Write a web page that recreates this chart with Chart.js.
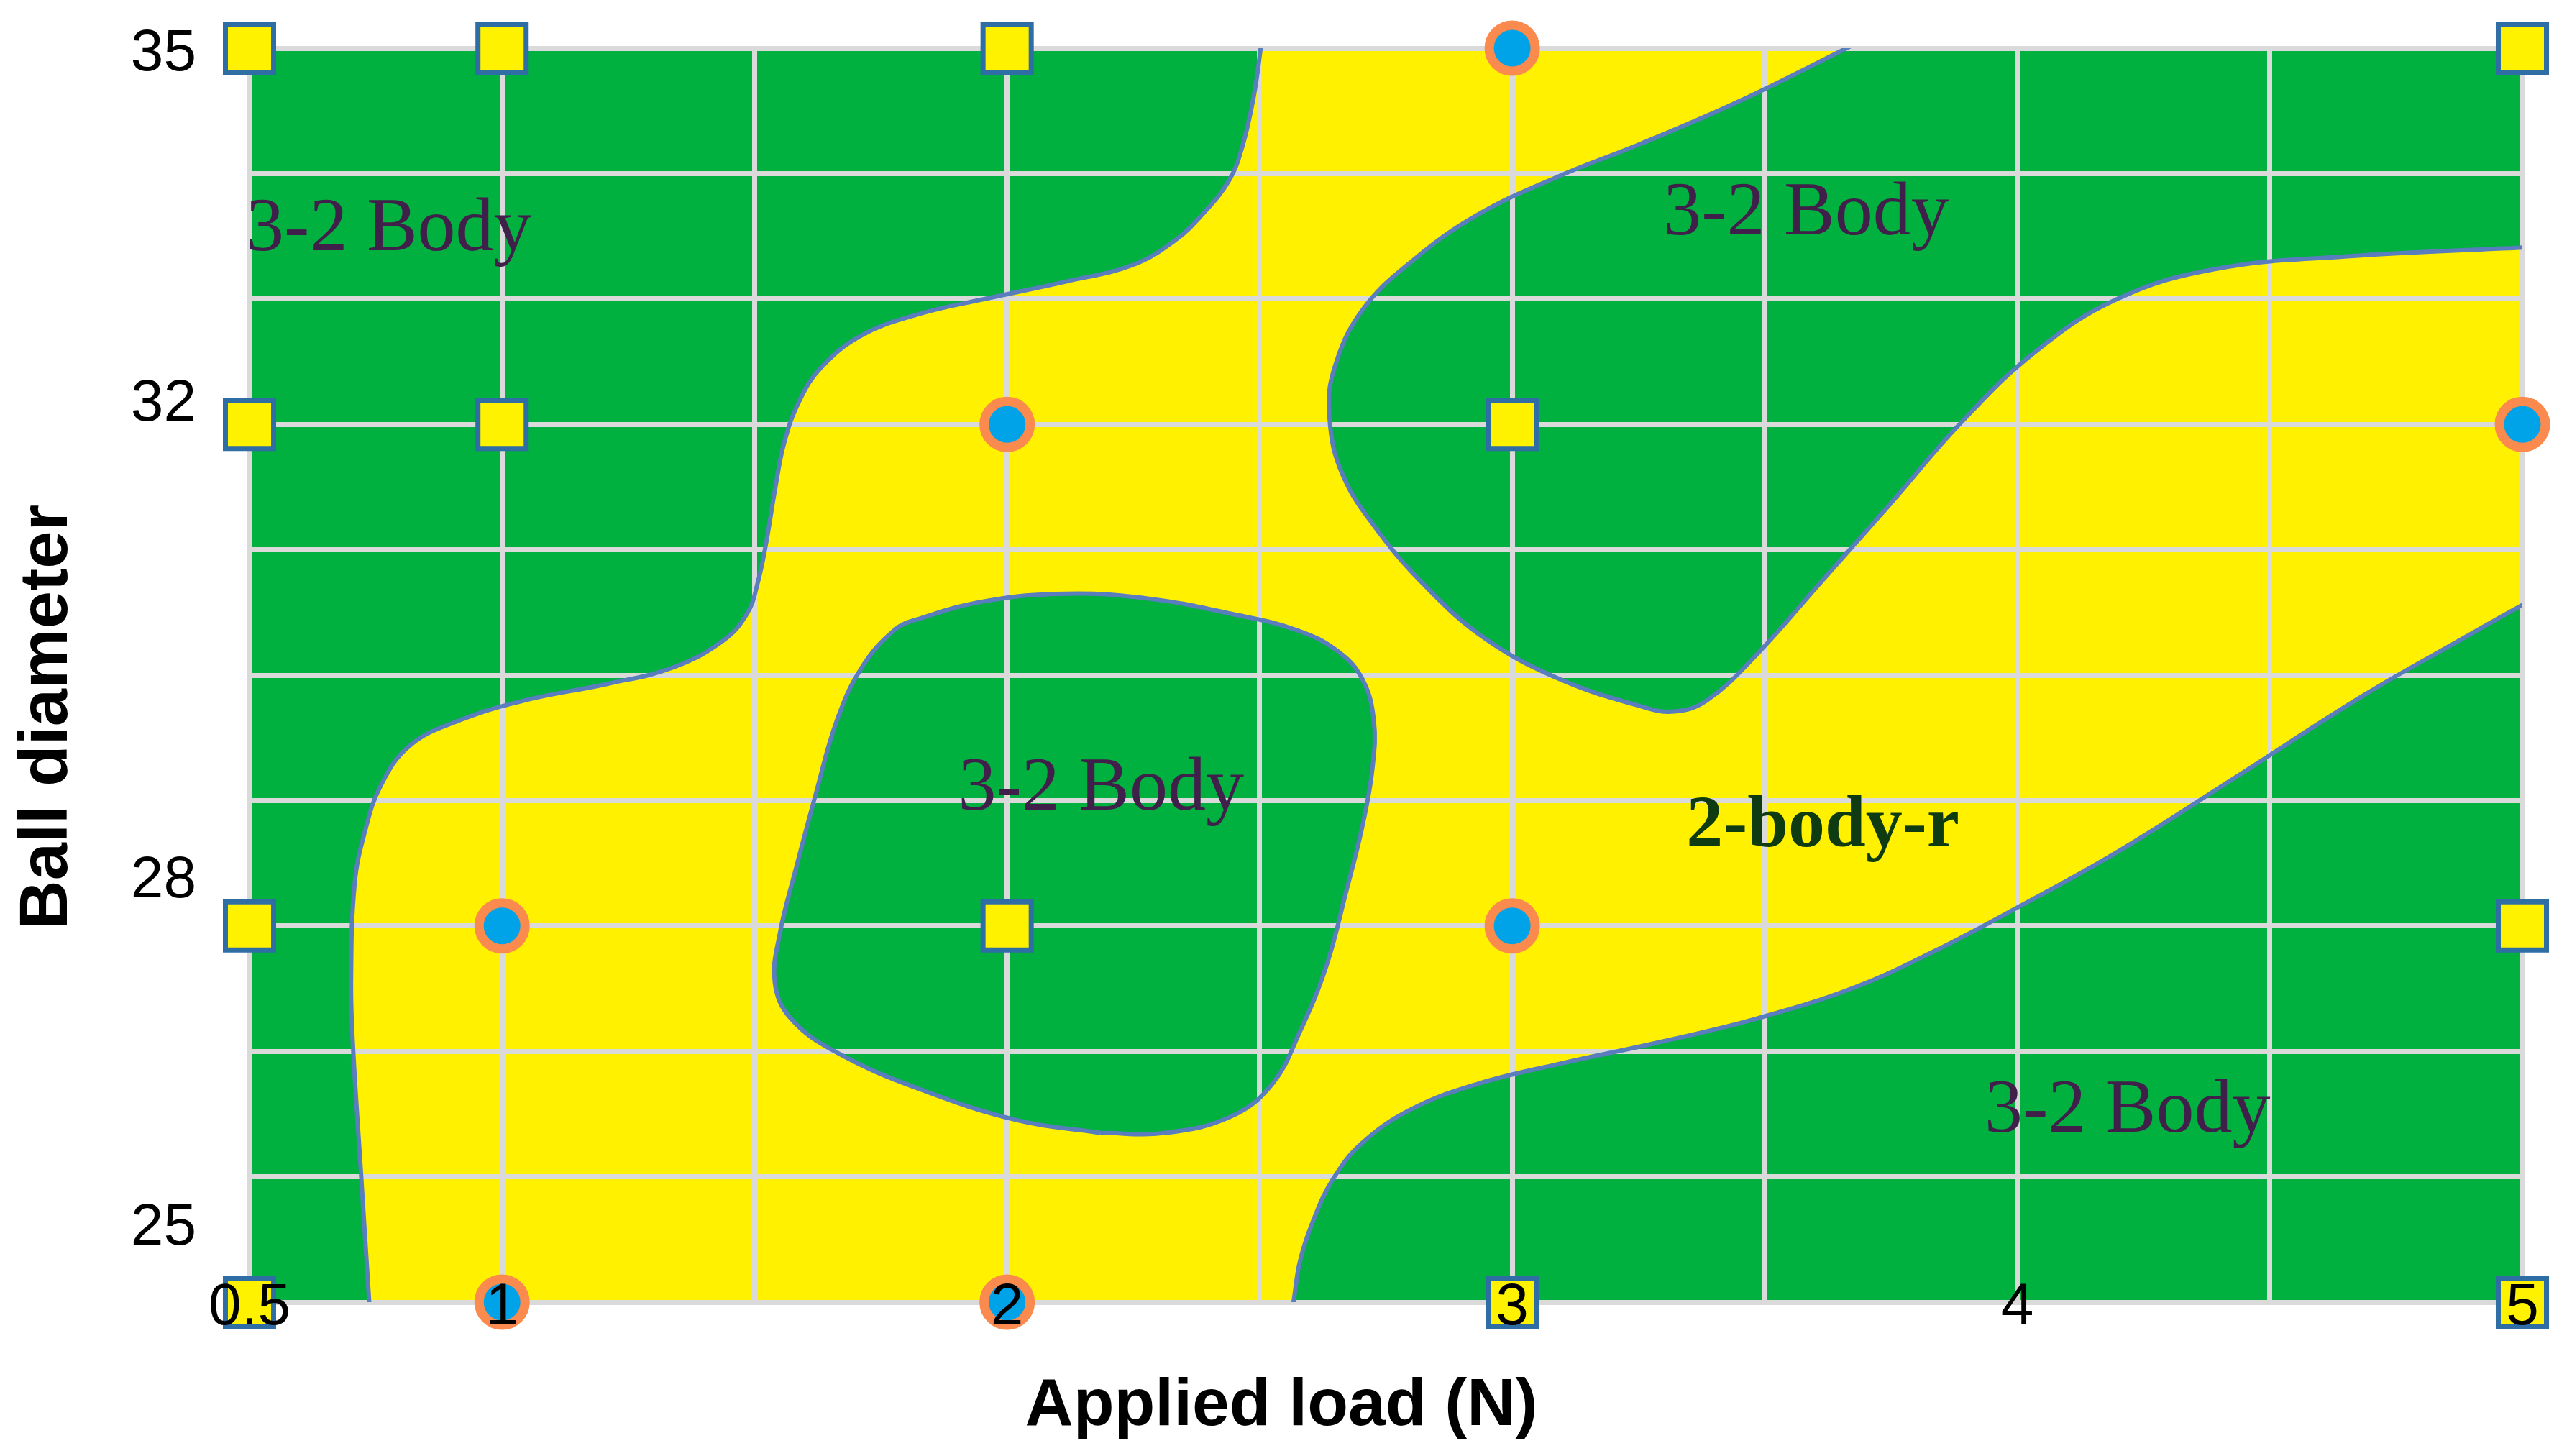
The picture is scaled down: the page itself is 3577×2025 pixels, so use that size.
<!DOCTYPE html>
<html>
<head>
<meta charset="utf-8">
<script src="https://cdn.jsdelivr.net/npm/chart.js@4.4.1/dist/chart.umd.min.js"></script>
<style>
html,body{margin:0;padding:0;background:#fff;}
#wrap{width:3577px;height:2025px;}
canvas{display:block;}
</style>
</head>
<body>
<div id="wrap"><canvas id="c" width="3577" height="2025"></canvas></div>
<script>
// ---------- axis ticks ----------
const xTickValues = [0.5, 1, 2, 3, 4, 5];
const xTickLabels = ['0.5', '1', '2', '3', '4', '5'];
const yTickLabels = ['35', '32', '28', '25'];
const yTickLabelAt = [34.95, 32.16, 28.36, 25.59];

// ---------- experiment points (x = applied load N, y = ball diameter) ----------
const threeBodyX = [0.5, 1, 2, 5, 0.5, 1, 3, 0.5, 2, 5, 0.5, 3, 5];
const threeBodyY = [35, 35, 35, 35, 32, 32, 32, 28, 28, 28, 25, 25, 25];
const twoBodyX = [3, 2, 5, 1, 3, 1, 2];
const twoBodyY = [35, 32, 32, 28, 28, 25, 25];

// ---------- regime boundaries (read from the map) ----------
// yellow 2-body-r band: everything right of this boundary
const boundaryLeft = [
  [0.761, 23.5], [0.737, 25.0], [0.721, 26.01], [0.705, 27.03], [0.701, 27.55],
  [0.708, 28.33], [0.727, 28.73], [0.760, 29.12], [0.818, 29.44], [0.916, 29.64],
  [1.046, 29.80], [1.208, 29.93], [1.338, 30.06], [1.436, 30.27], [1.485, 30.49],
  [1.507, 30.75], [1.524, 31.08], [1.540, 31.47], [1.559, 31.86], [1.589, 32.19],
  [1.631, 32.45], [1.712, 32.71], [1.826, 32.88], [1.956, 33.00], [2.118, 33.14],
  [2.248, 33.27], [2.330, 33.46], [2.388, 33.68], [2.440, 33.95], [2.466, 34.22],
  [2.488, 34.61], [2.502, 35.0], [2.540, 36.2], [7, 37], [7, 22]
];
// upper-right 3-2 body region
const boundaryUpperRight = [
  [4.08, 35.84], [3.662, 35.0], [3.451, 34.58], [3.256, 34.24], [3.093, 33.98],
  [2.931, 33.67], [2.801, 33.30], [2.703, 32.91], [2.648, 32.45], [2.638, 32.06],
  [2.664, 31.60], [2.736, 31.14], [2.833, 30.69], [2.947, 30.29], [3.093, 29.97],
  [3.256, 29.75], [3.321, 29.71], [3.386, 29.80], [3.483, 30.16], [3.613, 30.75],
  [3.743, 31.34], [3.890, 32.02], [4.036, 32.58], [4.198, 33.00], [4.393, 33.24],
  [4.653, 33.34], [5.0, 33.41], [5.4, 33.49], [7, 34], [7, 38], [4.5, 38]
];
// lower-right 3-2 body region
const boundaryLowerRight = [
  [2.515, 23.68], [2.567, 25.0], [2.580, 25.33], [2.606, 25.65], [2.645, 25.98],
  [2.703, 26.27], [2.801, 26.54], [2.931, 26.74], [3.093, 26.90], [3.288, 27.07],
  [3.483, 27.26], [3.678, 27.51], [3.841, 27.81], [3.997, 28.14], [4.198, 28.59],
  [4.426, 29.17], [4.686, 29.84], [4.881, 30.29], [5.0, 30.56], [5.25, 31.1],
  [7, 31.5], [7, 22], [2.4, 22]
];
// central 3-2 body island
const boundaryIsland = [
  [2.183, 26.35], [2.021, 26.45], [1.826, 26.70], [1.663, 26.99], [1.572, 27.26],
  [1.540, 27.55], [1.550, 27.94], [1.582, 28.46], [1.621, 29.05], [1.663, 29.64],
  [1.712, 30.06], [1.777, 30.36], [1.826, 30.45], [1.956, 30.59], [2.118, 30.65],
  [2.281, 30.61], [2.443, 30.49], [2.573, 30.36], [2.655, 30.19], [2.703, 29.97],
  [2.726, 29.64], [2.723, 29.25], [2.703, 28.79], [2.671, 28.27], [2.632, 27.68],
  [2.580, 27.16], [2.525, 26.74], [2.443, 26.48], [2.313, 26.35], [2.183, 26.35]
];

// ---------- region labels ----------
const regionLabels = ['3-2 Body', '3-2 Body', '3-2 Body', '3-2 Body', '2-body-r'];
const regionLabelX = [0.776, 3.582, 2.186, 4.218, 3.615];
const regionLabelY = [33.39, 33.515, 28.93, 26.36, 28.635];

// ---------- styles ----------
const GREEN = '#00b140';
const YELLOW = '#fff100';
const GRID = '#dadada';
const OUTLINE = '#5a7dbd';

const toXY = arr => arr.map(([x, y]) => ({x, y}));
const zipXY = (xs, ys) => xs.map((x, i) => ({x, y: ys[i]}));

function fillSet(label, pts, color, order, gridAfter) {
  return {
    label, data: toXY(pts), order, gridAfter: !!gridAfter,
    fill: 'shape', backgroundColor: color, borderWidth: 0, borderColor: 'rgba(0,0,0,0)',
    pointRadius: 0, pointHoverRadius: 0, tension: 0.4, capBezierPoints: false, clip: 0
  };
}
function outlineSet(label, pts, order) {
  return {
    label, data: toXY(pts), order,
    fill: false, borderColor: OUTLINE, borderWidth: 6, backgroundColor: 'rgba(0,0,0,0)',
    pointRadius: 0, pointHoverRadius: 0, tension: 0.4, capBezierPoints: false, clip: 0
  };
}

const datasets = [
  fillSet('2-body-r region', boundaryLeft, YELLOW, 50),
  fillSet('3-2 body upper right', boundaryUpperRight, GREEN, 49),
  fillSet('3-2 body lower right', boundaryLowerRight, GREEN, 48),
  fillSet('3-2 body island', boundaryIsland, GREEN, 47, true),
  outlineSet('boundary left', boundaryLeft, 30),
  outlineSet('boundary upper right', boundaryUpperRight, 29),
  outlineSet('boundary lower right', boundaryLowerRight, 28),
  outlineSet('boundary island', boundaryIsland, 27),
  {
    label: '3-2 Body tests', data: zipXY(threeBodyX, threeBodyY), order: 10,
    showLine: false, pointStyle: 'rect', pointRadius: 47.4, pointHoverRadius: 47.4,
    pointBackgroundColor: '#fff200', pointBorderColor: '#2f6ea5', pointBorderWidth: 7,
    clip: false
  },
  {
    label: '2-body-r tests', data: zipXY(twoBodyX, twoBodyY), order: 9,
    showLine: false, pointStyle: 'circle', pointRadius: 32, pointHoverRadius: 32,
    pointBackgroundColor: '#00a2e8', pointBorderColor: '#fb8a4e', pointBorderWidth: 13,
    clip: false
  }
];

const overlay = {
  id: 'overlay',
  beforeDatasetsDraw(chart) {
    const {ctx, chartArea: a} = chart;
    ctx.save();
    ctx.fillStyle = GREEN;
    ctx.fillRect(a.left, a.top, a.right - a.left, a.bottom - a.top);
    ctx.restore();
  },
  afterDatasetDraw(chart, args) {
    const ds = chart.data.datasets[args.index];
    if (ds && ds.gridAfter) {
      chart.scales.x.drawGrid(chart.chartArea);
      chart.scales.y.drawGrid(chart.chartArea);
    }
  },
  afterDatasetsDraw(chart) {
    const {ctx, chartArea: a, scales: {x, y}} = chart;
    ctx.save();
    ctx.beginPath();
    ctx.rect(a.left, a.top, a.right - a.left, a.bottom - a.top);
    ctx.clip();
    ctx.textAlign = 'center';
    ctx.textBaseline = 'alphabetic';
    regionLabels.forEach((t, i) => {
      if (t === '2-body-r') {
        ctx.font = 'bold 102px "Liberation Serif"';
        ctx.fillStyle = '#0e3b12';
      } else {
        ctx.font = '106px "Liberation Serif"';
        ctx.fillStyle = '#40204a';
      }
      ctx.fillText(t, x.getPixelForValue(regionLabelX[i]), y.getPixelForValue(regionLabelY[i]));
    });
    ctx.restore();
  },
  afterDraw(chart) {
    const {ctx} = chart;
    ctx.save();
    ctx.fillStyle = '#000';
    ctx.font = 'bold 93px "Liberation Sans"';
    ctx.textAlign = 'center';
    ctx.textBaseline = 'alphabetic';
    ctx.fillText('Applied load (N)', 1782, 1982);
    ctx.translate(93, 997);
    ctx.rotate(-Math.PI / 2);
    ctx.font = 'bold 94px "Liberation Sans"';
    ctx.fillText('Ball diameter', 0, 0);
    ctx.restore();
  }
};

const noPad = s => { s.paddingTop = 0; s.paddingBottom = 0; s.paddingLeft = 0; s.paddingRight = 0; };

new Chart(document.getElementById('c'), {
  type: 'line',
  data: {datasets},
  plugins: [overlay],
  options: {
    responsive: false,
    devicePixelRatio: 1,
    animation: false,
    events: [],
    layout: {padding: {top: 67, right: 69, bottom: 0, left: 0}},
    plugins: {legend: {display: false}, tooltip: {enabled: false}},
    scales: {
      x: {
        type: 'linear', position: 'bottom', min: 0.5, max: 5,
        grid: {color: GRID, lineWidth: 7, drawTicks: false},
        border: {display: false},
        ticks: {
          stepSize: 0.5, autoSkip: false, maxRotation: 0, mirror: true, padding: -58, z: 1,
          color: '#000', font: {family: 'Liberation Sans', size: 82},
          callback: v => {
            const i = xTickValues.findIndex(t => Math.abs(t - v) < 1e-6);
            return i >= 0 ? xTickLabels[i] : '';
          }
        },
        afterFit: s => { s.height = 214; noPad(s); }
      },
      yl: {
        type: 'linear', position: 'left', min: 25, max: 35,
        grid: {display: false, drawTicks: false},
        border: {display: false},
        afterBuildTicks: s => { s.ticks = yTickLabelAt.map(v => ({value: v})); },
        ticks: {
          autoSkip: false, padding: 74, color: '#000',
          font: {family: 'Liberation Sans', size: 82},
          callback: (v, i) => yTickLabels[i]
        },
        afterFit: s => { s.width = 347; noPad(s); }
      },
      y: {
        type: 'linear', position: 'left', min: 25, max: 35,
        grid: {color: GRID, lineWidth: 7, drawTicks: false},
        border: {display: false},
        ticks: {display: false, stepSize: 1},
        afterFit: s => { s.width = 0; noPad(s); }
      }
    }
  }
});
</script>
</body>
</html>
